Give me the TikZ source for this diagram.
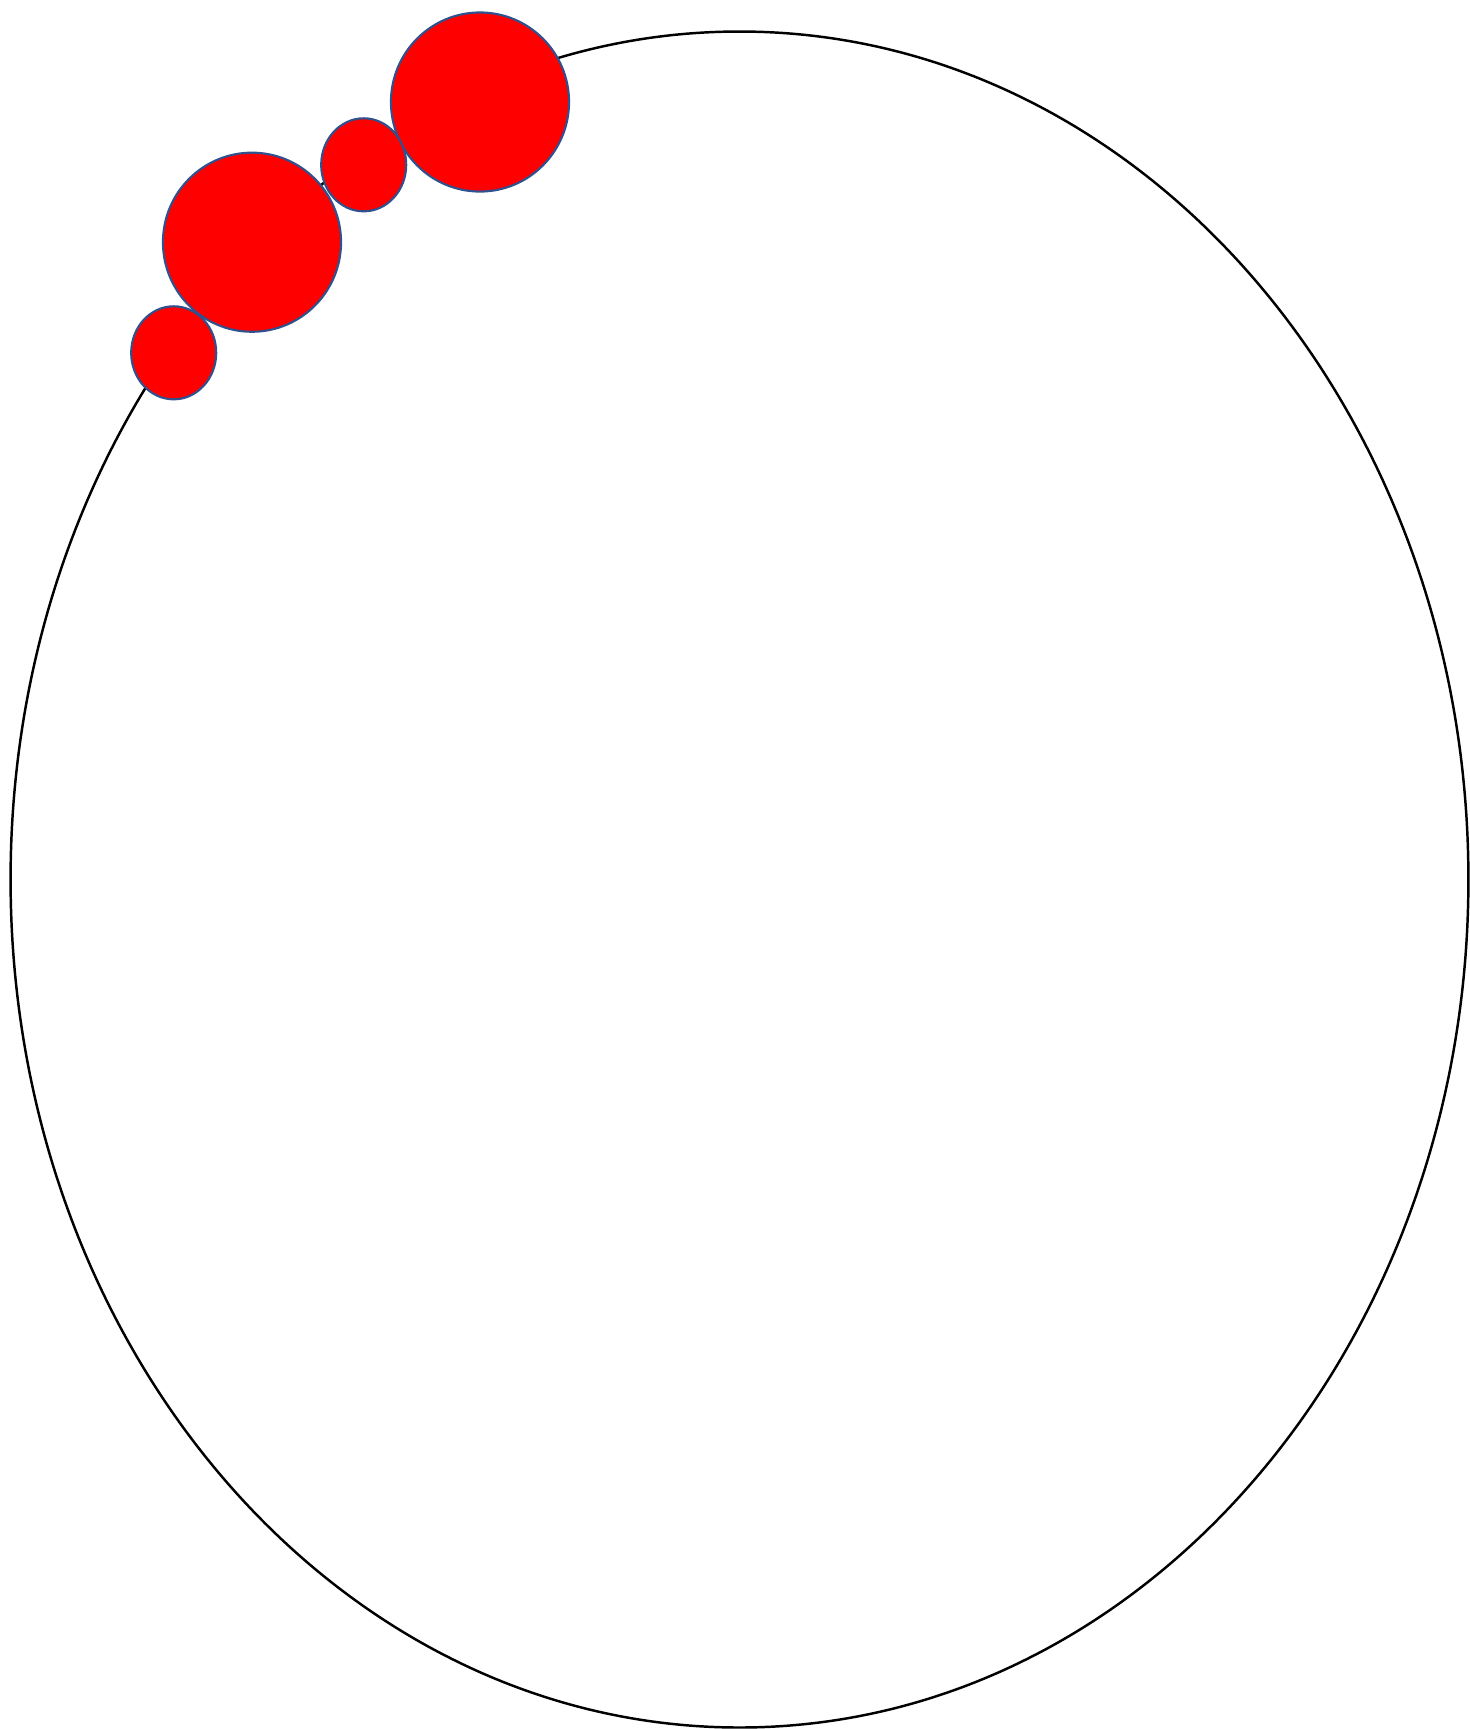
\documentclass[tikz,border=0pt]{standalone}
\usepackage{xcolor}
\definecolor{beadblue}{HTML}{2F528F}
\definecolor{beadred}{HTML}{FF0000}
\usepackage{tikz}
\usetikzlibrary{shapes.geometric}

\begin{document}
\begin{tikzpicture}[x=0.01cm, y=-0.01cm,
      ring/.style={draw=black, ellipse, line width=0.7pt, inner sep=0pt, minimum width=14.57cm, minimum height=16.95cm},
      bigbead/.style={draw=beadblue, fill=beadred, ellipse, line width=0.6pt, inner sep=0pt, minimum width=1.78cm, minimum height=1.79cm},
      smallbead/.style={draw=beadblue, fill=beadred, ellipse, line width=0.6pt, inner sep=0pt, minimum width=0.85cm, minimum height=0.93cm}
    ]
    \useasboundingbox (0,0) rectangle (1470,1729);
    \node[ring] (rim) at (739.5,879.5) {};
    \node[bigbead] (b1) at (480,102) {};
    \node[smallbead] (b2) at (363.7,164.8) {};
    \node[bigbead] (b3) at (252,242.2) {};
    \node[smallbead] (b4) at (173.7,352.8) {};
  \end{tikzpicture}
\end{document}
